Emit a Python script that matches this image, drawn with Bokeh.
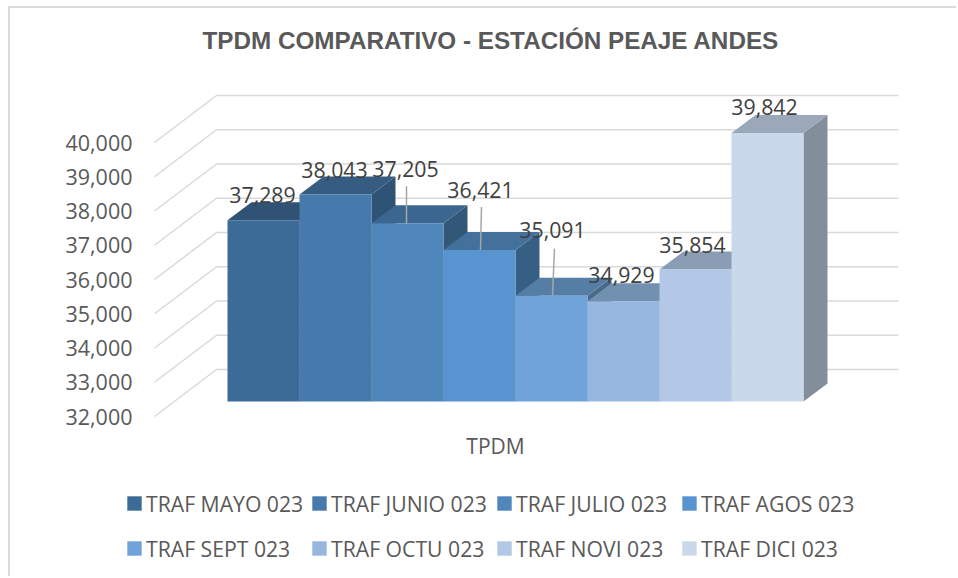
from bokeh.plotting import figure
from bokeh.models import (Range1d, LinearAxis, FixedTicker, NumeralTickFormatter, Legend, LegendItem,
                          ColumnDataSource, Label)
from bokeh.core.properties import value
from bokeh.embed import file_html
from bokeh.resources import INLINE

TITLE = "TPDM COMPARATIVO - ESTACIÓN PEAJE ANDES"
CATEGORY = "TPDM"
series = ["TRAF MAYO 023", "TRAF JUNIO 023", "TRAF JULIO 023", "TRAF AGOS 023",
          "TRAF SEPT 023", "TRAF OCTU 023", "TRAF NOVI 023", "TRAF DICI 023"]
values = [37289, 38043, 37205, 36421, 35091, 34929, 35854, 39842]
ticks = [32000, 33000, 34000, 35000, 36000, 37000, 38000, 39000, 40000]
front_colors = ["#3D6B97", "#477AAC", "#4F86BC", "#5894CF", "#6FA3DA", "#97B7E0", "#B3C8E6", "#CAD8EC"]
top_colors = ["#2F5275", "#365C82", "#3B6690", "#44719C", "#557EA5", "#7290AF", "#8A9DB4", "#9AA8BA"]
side_colors = ["#294865", "#2F5374", "#335877", "#365F84", "#48698A", "#5F7A95", "#76869A", "#838E9B"]
# label offsets from the bar's top centre (screen px)
label_dx = [-1, -1, -2, 1, 1, -2, -3, -3]
label_dy = [25, 25, 54, 60, 66, 26, 25, 26]
leaders = {2: (-1, 37, -1), 3: (1, 43, 2), 4: (1, 47, 3)}

BASE = 32000
# scale: one bar is 72 px wide, 1000 units are 34.25 px
PX_X = 1 / 72
PX_Y = 1000 / 34.25
ORIGIN_X, ORIGIN_Y = 10, 8
FRAME_L, FRAME_R, FRAME_T, FRAME_B = 125, 910, 15, 578   # page px
BAR0_X, BASE_Y = 227, 401                                 # page px of bar-plane origin
DX, DY = 24 * PX_X, 18 * PX_Y                             # bar depth

x_range = Range1d((FRAME_L - BAR0_X) * PX_X, (FRAME_R - BAR0_X) * PX_X)
y_range = Range1d(BASE - (FRAME_B - BASE_Y) * PX_Y, BASE + (BASE_Y - FRAME_T) * PX_Y)

p = figure(width=948, height=570, output_backend="svg", toolbar_location=None,
           x_range=x_range, y_range=y_range, x_axis_location=None, y_axis_location=None,
           min_border_left=FRAME_L - ORIGIN_X, min_border_right=958 - FRAME_R,
           min_border_top=FRAME_T - ORIGIN_Y, min_border_bottom=0,
           background_fill_color="white", border_fill_color="white",
           outline_line_color=None, margin=(6, 0, 0, 8))
p.grid.visible = False
p.styles = {"border-top": "2px solid #DADADA", "border-left": "2px solid #DADADA"}

p.add_layout(Label(x=(202 - BAR0_X) * PX_X, y=BASE + (BASE_Y - 40) * PX_Y, text=TITLE,
                   text_align="left", text_baseline="middle", text_font="Liberation Sans",
                   text_font_style="bold", text_font_size="24.25px", text_color="#595959"))

# value axis on the wall's front plane, 15 px below the bar plane
WALL_SHIFT = 15 * PX_Y
p.extra_y_ranges = {"wall": Range1d(y_range.start + WALL_SHIFT, y_range.end + WALL_SHIFT)}
yaxis = LinearAxis(y_range_name="wall", ticker=FixedTicker(ticks=ticks),
                   formatter=NumeralTickFormatter(format="0,0"),
                   axis_line_color=None, major_tick_line_color=None, minor_tick_line_color=None,
                   major_label_text_font="Open Sans", major_label_text_font_size="21.5px",
                   major_label_text_color="#595959", major_label_standoff=-13)
p.add_layout(yaxis, "left")

xaxis = LinearAxis(ticker=FixedTicker(ticks=[(495 - BAR0_X) * PX_X]),
                   major_label_overrides={(495 - BAR0_X) * PX_X: CATEGORY},
                   axis_line_color=None, major_tick_line_color=None, minor_tick_line_color=None,
                   major_label_text_font="Open Sans", major_label_text_font_size="21px",
                   major_label_text_color="#595959", major_label_standoff=-153)
p.add_layout(xaxis, "below")

# walls: front edge -> back edge -> right end
x_front, x_back, x_end = (154 - BAR0_X) * PX_X, (216 - BAR0_X) * PX_X, (898 - BAR0_X) * PX_X
xs = [[x_front, x_back, x_end] for _ in ticks]
ys = [[t - 15 * PX_Y, t + 32 * PX_Y, t + 32 * PX_Y] for t in ticks]
p.multi_line(xs, ys, line_color="#D9D9D9", line_width=1.5)

items = []
for i, (name, v) in enumerate(zip(series, values)):
    p.patch([i + 1, i + 1 + DX, i + 1 + DX, i + 1], [BASE, BASE + DY, v + DY, v],
            fill_color=side_colors[i], line_color=None)
    p.patch([i, i + 1, i + 1 + DX, i + DX], [v, v, v + DY, v + DY],
            fill_color=top_colors[i], line_color=None)
    r = p.quad(left=i, right=i + 1, bottom=BASE, top=v, fill_color=front_colors[i], line_color=None)
    items.append(LegendItem(label=name, renderers=[r]))

# leader lines
for i, (dx0, dy1, dx1) in leaders.items():
    c = i + 0.5
    v = values[i]
    p.line([c + dx0 * PX_X, c + dx1 * PX_X], [v, v + dy1 * PX_Y], line_color="#A6A6A6", line_width=1.5)

labels = ColumnDataSource(dict(x=[i + 0.5 for i in range(len(values))], y=values,
                               t=[f"{v:,}" for v in values], dx=label_dx, dy=[-d for d in label_dy]))
p.text("x", "y", text="t", source=labels, x_offset="dx", y_offset="dy", text_align="center",
       text_baseline="middle", text_font=value("Open Sans"), text_font_size="21.3px", text_color="#404040")

legend = Legend(items=items, orientation="horizontal", ncols=4, nrows=2,
                location=(0, FRAME_B - 568),
                glyph_width=18, glyph_height=18, label_width=159, label_height=40, label_standoff=3,
                spacing=5, padding=0, margin=0, background_fill_alpha=0, border_line_color=None,
                label_text_font="Open Sans", label_text_font_size="21.2px", label_text_color="#595959")
p.add_layout(legend)

open("out.html", "w").write(file_html(p, INLINE))
